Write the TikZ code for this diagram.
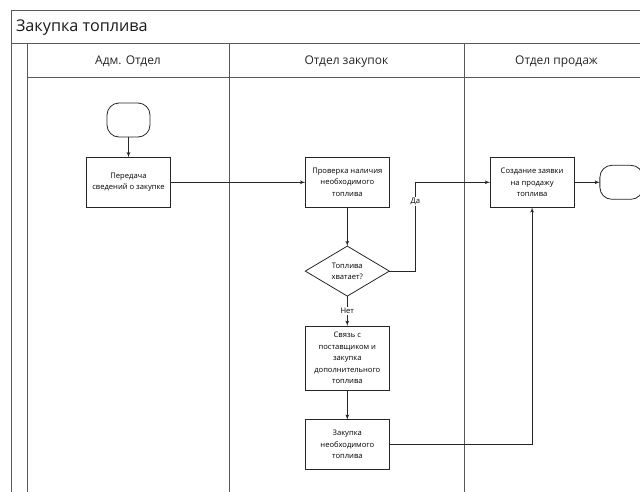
\documentclass[tikz,border=0pt]{standalone}
\usepackage{fontspec}
\setmainfont{Open Sans}
\usepackage{tikz}
\usetikzlibrary{arrows, positioning, shapes.geometric}

\begin{document}
\begin{tikzpicture}
        [x=1pt, y=-1pt,
        decision/.style={diamond, draw=black!85, line width=0.8pt,
        minimum width=84pt, minimum height=50pt, aspect=1.68,
        align=center, inner sep=0pt, outer sep=0pt,
        font=\fontsize{7.6}{11.5}\selectfont},
        block/.style ={rectangle, draw=black!85, line width=0.8pt,
        minimum width=84pt, minimum height=50pt,
        align=center, inner sep=1pt, outer sep=0pt,
        font=\fontsize{7.6}{11.5}\selectfont},
        terminal/.style ={rectangle, draw=black!85, line width=0.8pt,
        rounded corners=12pt, minimum width=43pt, minimum height=34pt,
        outer sep=0pt},
        line/.style ={draw=black!85, line width=0.8pt, -latex'},
        lane/.style ={draw=black!65, line width=1pt},
        lanehead/.style ={font=\fontsize{12}{14}\selectfont, text=black!85},
        answer/.style ={fill=white, inner sep=1pt,
        font=\fontsize{7.6}{9}\selectfont}]
        \useasboundingbox (0,0) rectangle (640,492);
        % pool and lanes
        \draw [lane] (660,11) -- (11,11) -- (11,500);
        \draw [lane] (11,44) -- (660,44);
        \draw [lane] (27.5,44) -- (27.5,500);
        \draw [lane] (27.5,78) -- (660,78);
        \draw [lane] (229,44) -- (229,500);
        \draw [lane] (464,44) -- (464,500);
        \node [anchor=west, font=\fontsize{16.2}{18}\selectfont, text=black!90]
            (pool) at (12.5,27.5) {Закупка топлива};
        \node [lanehead] (adm) at (128,61.5) {Адм. Отдел};
        \node [lanehead] (purchase) at (346.5,61.5) {Отдел закупок};
        \node [lanehead] (sales) at (556.5,61.5) {Отдел продаж};
        \matrix [column sep=0pt, row sep=0pt, matrix anchor=start.center]
            at (128.5,120)
            {
                % row 1
                \node [terminal] (start) {}; &[134pt] &[100pt] &[25pt] \\[19.5pt]
                % row 2
                \node [block] (pass) {Передача\\сведений о закупке}; &[134pt]
                \node [block] (check) {Проверка наличия\\необходимого\\топлива}; &[100pt]
                \node [block] (order) {Создание заявки\\на продажу\\топлива}; &[25pt]
                \node [terminal] (finish) {}; \\[38pt]
                % row 3
                &[134pt] \node [decision] (enough) {Топлива\\хватает?}; &[100pt] &[25pt] \\[29pt]
                % row 4
                &[134pt] \node [block, minimum height=64pt] (contact)
                    {Связь с\\поставщиком и\\закупка\\дополнительного\\топлива}; &[100pt] &[25pt] \\[29pt]
                % row 5
                &[134pt] \node [block] (buy) {Закупка\\необходимого\\топлива}; &[100pt] &[25pt] \\
        };
        \begin{scope}[every path/.style=line]
            \path (start) -- (pass);
            \path (pass) -- (check);
            \path (check) -- (enough);
            \path (enough.east) -- ++(26,0) |- node [answer, pos=0.39] {Да} (order.west);
            \path (enough) -- node [answer, midway] {Нет} (contact);
            \path (contact) -- (buy);
            \path (buy.east) -| (order.south);
            \path (order) -- (finish);
        \end{scope}
    \end{tikzpicture}
\end{document}
